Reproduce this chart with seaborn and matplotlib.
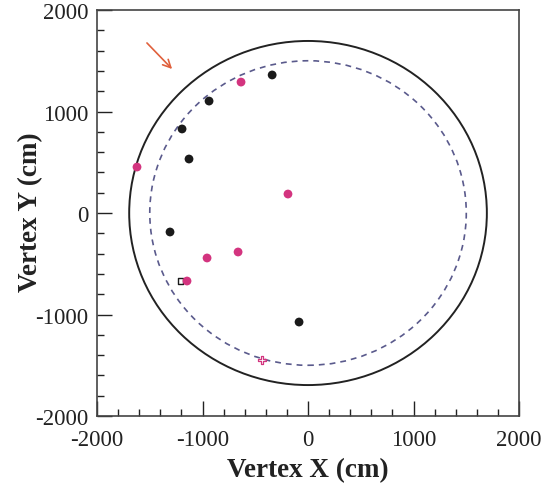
import numpy as np
import pandas as pd
import matplotlib
matplotlib.use('Agg')
import matplotlib.pyplot as plt
from matplotlib.patches import Circle
import seaborn as sns

# Event vertices (cm)
black_x = [-340, -938, -1194, -1128, -1308, -85]
black_y = [1360, 1103, 828, 532, -187, -1074]
pink_x = [-635, -190, -1621, -957, -663, -1147]
pink_y = [1290, 187, 453, -443, -384, -670]
open_pink_x = [-436]
open_pink_y = [-1448]
open_black_x = [-1205]
open_black_y = [-670]

# Detector outline and fiducial volume radii (cm)
outer_radius = 1695
fiducial_radius = 1500

# Arrow (tail, head) in data coordinates
arrow_tail = (-1545, 1695)
arrow_head = (-1270, 1399)

sns.set_style('ticks')
plt.rcParams['font.family'] = ['Liberation Serif', 'DejaVu Serif']
plt.rcParams['axes.unicode_minus'] = False

black_df = pd.DataFrame({'x': black_x, 'y': black_y})
pink_df = pd.DataFrame({'x': pink_x, 'y': pink_y})

fig = plt.figure(figsize=(5.55, 4.89), dpi=100)
ax = fig.add_axes([0.1748, 0.1472, 0.7604, 0.8303])

# Circles
ax.add_patch(Circle((0, 0), outer_radius, fill=False, edgecolor='#222222', linewidth=1.4))
ax.add_patch(Circle((0, 0), fiducial_radius, fill=False, edgecolor='#5a5a8c',
                    linewidth=1.2, linestyle=(0, (3.5, 3))))

# Points
sns.scatterplot(data=black_df, x='x', y='y', color='#1a1a1a', s=40, edgecolor='none', ax=ax)
ax.scatter(open_black_x, open_black_y, marker='s', s=14, facecolor='none',
           edgecolor='#1a1a1a', linewidth=1.0, zorder=2)
sns.scatterplot(data=pink_df, x='x', y='y', color='#d3347f', s=40, edgecolor='none', ax=ax, zorder=3)
ax.scatter(open_pink_x, open_pink_y, marker='P', s=40, facecolor='none',
           edgecolor='#d3347f', linewidth=0.9, zorder=3)

# Arrow
ax.annotate('', xy=arrow_head, xytext=arrow_tail,
            arrowprops=dict(arrowstyle='->', color='#e0603c', lw=1.2, mutation_scale=14))

ax.set_xlim(-2000, 2000)
ax.set_ylim(-2000, 2000)
ax.set_xticks([-2000, -1000, 0, 1000, 2000])
ax.set_yticks([-2000, -1000, 0, 1000, 2000])
ax.set_xticks(np.arange(-2000, 2001, 200), minor=True)
ax.set_yticks(np.arange(-2000, 2001, 200), minor=True)
ax.tick_params(which='both', direction='in', top=False, right=False,
               labelsize=16.5, colors='#222222', pad=6)
ax.tick_params(axis='x', which='major', pad=9)
ax.tick_params(which='major', length=11, width=1.0)
ax.tick_params(which='minor', length=5, width=1.0)

for side in ['top', 'bottom', 'left', 'right']:
    ax.spines[side].set_visible(True)
    ax.spines[side].set_color('#444444')
    ax.spines[side].set_linewidth(1.2)

ax.set_xlabel('Vertex X (cm)', fontsize=19.5, fontweight='bold', color='#222222')
ax.set_ylabel('Vertex Y (cm)', fontsize=19.5, fontweight='bold', color='#222222')
ax.xaxis.set_label_coords(0.5, -0.102)
ax.yaxis.set_label_coords(-0.127, 0.505)

fig.savefig('out.png', dpi=100)
